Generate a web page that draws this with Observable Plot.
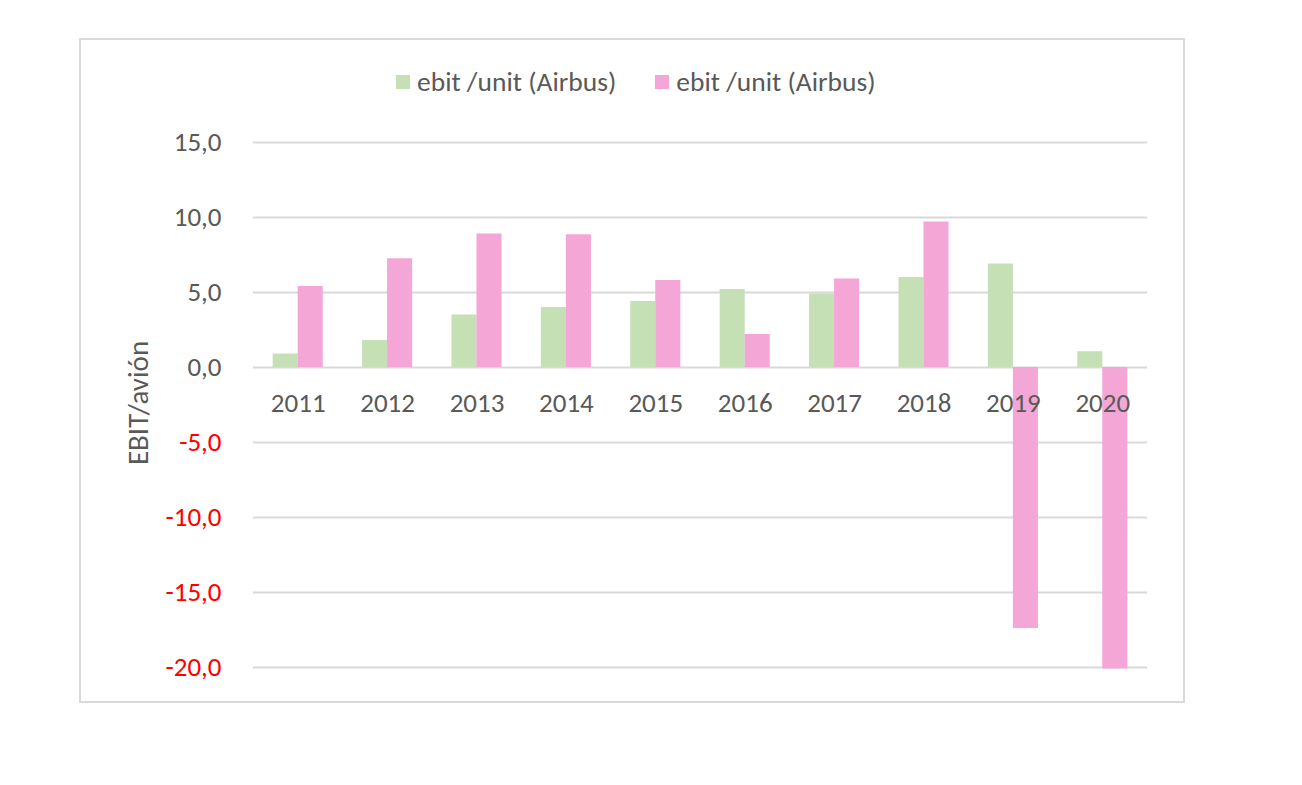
<!DOCTYPE html>
<html>
<head>
<meta charset="utf-8">
<script src="https://cdn.jsdelivr.net/npm/d3@7"></script>
<script src="https://cdn.jsdelivr.net/npm/@observablehq/plot@0.6"></script>
<style>
  html, body { margin: 0; padding: 0; background: #fff; }
  #wrap { position: relative; width: 1302px; height: 785px; font-family: Carlito, Calibri, Lato, sans-serif; }
  #frame { position: absolute; left: 79px; top: 38px; width: 1102px; height: 661px; border: 2px solid #d9d9d9; pointer-events: none; }
  #legend { position: absolute; left: 396px; top: 64px; display: flex; gap: 39px; color: #595959; font-size: 27.5px; line-height: 36px; white-space: nowrap; }
  #legend .item { display: flex; align-items: center; gap: 7px; }
  #legend .sw { width: 14px; height: 14px; display: inline-block; }
  #chart { position: absolute; left: 0; top: 0; }
</style>
</head>
<body>
<div id="wrap">
  <div id="chart"></div>
  <div id="frame"></div>
  <div id="legend"></div>
</div>
<script>
const years = ["2011","2012","2013","2014","2015","2016","2017","2018","2019","2020"];
const seriesNames = ["ebit /unit (Airbus)", "ebit /unit (Airbus)"];
const seriesColors = ["#c5e0b4", "#f4a6d6"];
const greenValues = [0.9, 1.8, 3.5, 4.0, 4.4, 5.2, 4.9, 6.0, 6.9, 1.05];
const pinkValues = [5.4, 7.25, 8.9, 8.85, 5.8, 2.2, 5.9, 9.7, -17.4, -20.1];
const yTicks = [-20, -15, -10, -5, 0, 5, 10, 15];
const yLabel = "EBIT/avión";

const green = years.map((y, i) => ({year: y, value: greenValues[i]}));
const pink = years.map((y, i) => ({year: y, value: pinkValues[i]}));
const fmt = d => d.toFixed(1).replace(".", ",");

const chart = Plot.plot({
  width: 1302,
  height: 785,
  marginLeft: 253,
  marginRight: 155,
  marginTop: 142,
  marginBottom: 118,
  style: {fontFamily: "Carlito, Calibri, Lato, sans-serif", background: "transparent"},
  x: {domain: years, paddingInner: 0.44, paddingOuter: 0.22, round: false, axis: null},
  y: {domain: [-20, 15], axis: null},
  marks: [
    Plot.ruleY(yTicks, {stroke: "#d9d9d9", strokeWidth: 2}),
    Plot.barY(green, {x: "year", y: "value", fill: seriesColors[0], insetRight: 25}),
    Plot.barY(pink, {x: "year", y: "value", fill: seriesColors[1], insetLeft: 25}),
    Plot.text(years, {x: d => d, y: 0, dy: 36, text: d => d, fill: "#595959", fontSize: 27}),
    Plot.text(yTicks, {frameAnchor: "left", y: d => d, dx: -32, text: fmt, textAnchor: "end",
      fill: d => d < 0 ? "#ff0000" : "#595959", fontSize: 27}),
    Plot.text([yLabel], {frameAnchor: "left", dx: -115, dy: -2, rotate: -90, textAnchor: "middle", text: d => d, fill: "#595959", fontSize: 29})
  ]
});
document.getElementById("chart").appendChild(chart);

const legend = document.getElementById("legend");
seriesNames.forEach((name, i) => {
  const item = document.createElement("div");
  item.className = "item";
  const sw = document.createElement("span");
  sw.className = "sw";
  sw.style.background = seriesColors[i];
  const t = document.createElement("span");
  t.textContent = name;
  item.appendChild(sw);
  item.appendChild(t);
  legend.appendChild(item);
});
</script>
</body>
</html>
